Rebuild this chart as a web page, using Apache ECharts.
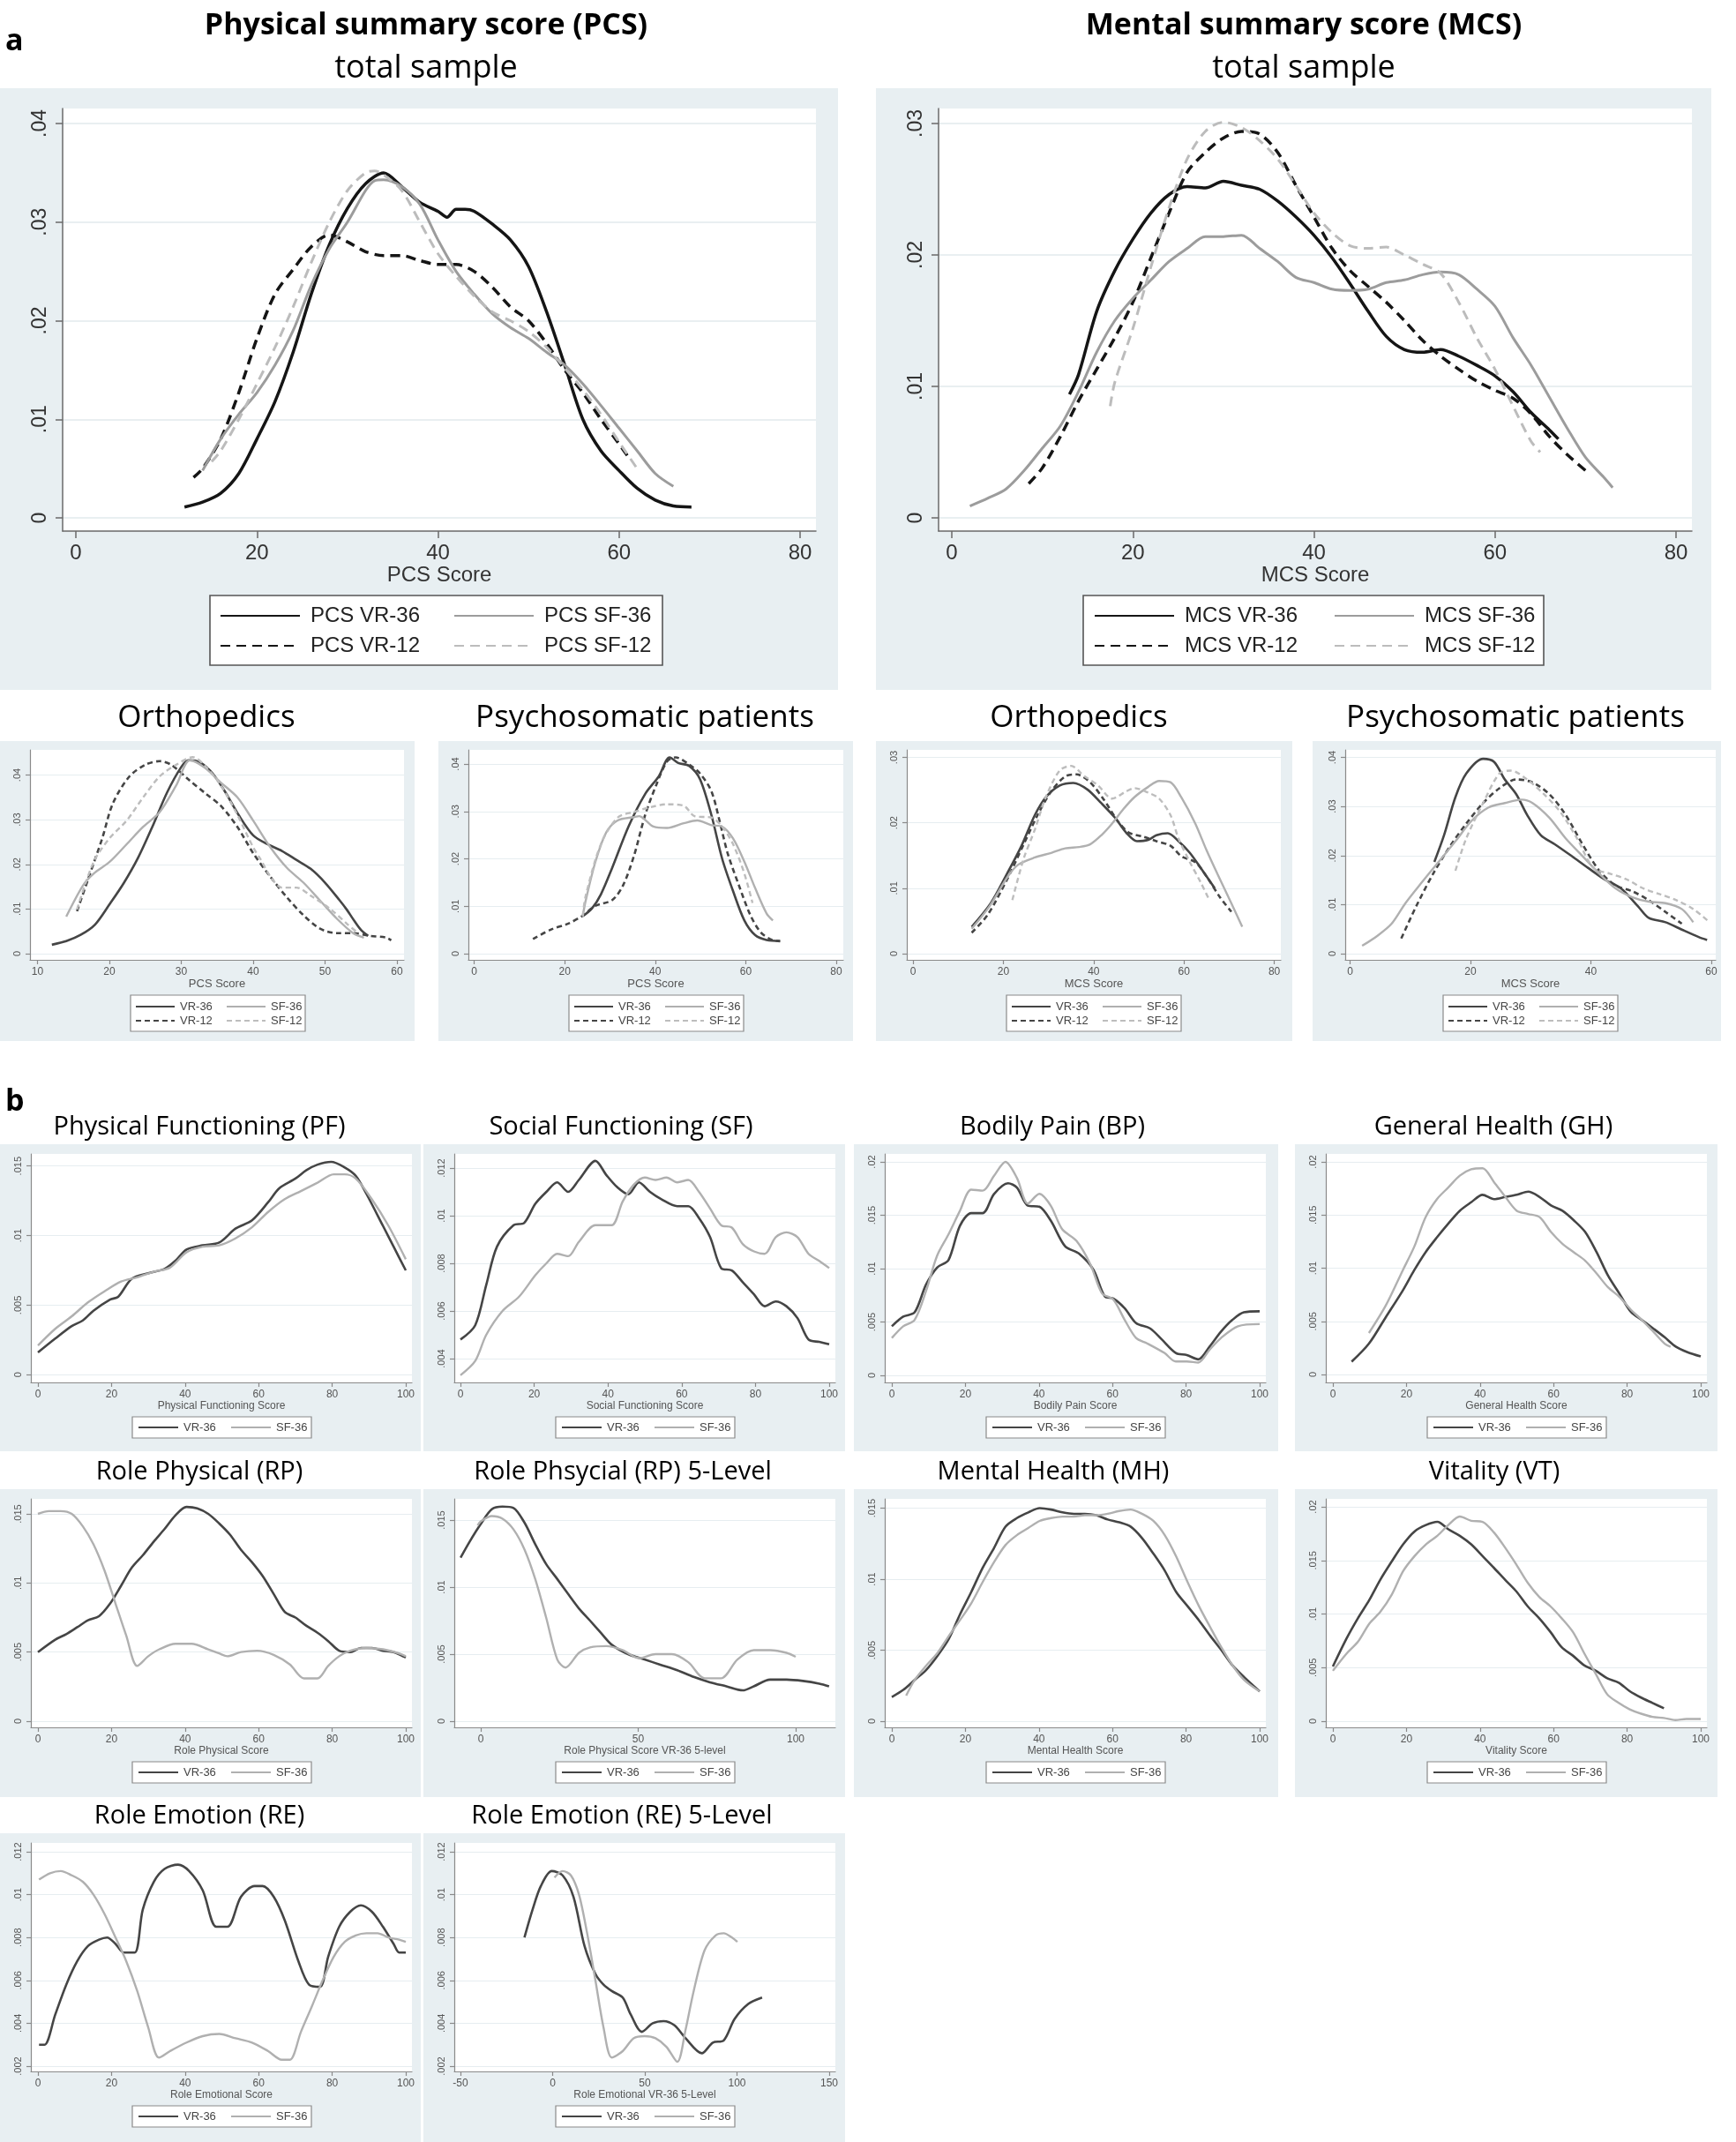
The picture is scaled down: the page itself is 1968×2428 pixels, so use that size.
<!DOCTYPE html>
<html><head><meta charset="utf-8">
<script src="https://cdn.jsdelivr.net/npm/echarts@6/dist/echarts.min.js"></script>
<style>html,body{margin:0;padding:0;background:#fff}#c{width:1968px;height:2428px}</style>
</head><body><div id="c"></div>
<script>
// ================= DATA (x, density) =================
// Total sample PCS
const pcsVR36 = [[12,.0011],[14,.0016],[16,.0025],[18,.0045],[20,.008],[22,.0118],[24,.0168],[26,.0227],[28,.0277],[30,.0314],[32,.0339],[34,.035],[36,.0336],[38,.032],[40,.0311],[41,.0305],[42,.0313],[43,.0313],[44,.0311],[46,.0298],[48,.0282],[50,.0255],[52,.0209],[54,.0155],[56,.01],[58,.0068],[60,.0048],[62,.003],[64,.0018],[66,.0012],[68,.0011]];
const pcsVR12 = [[13,.0041],[14,.005],[16,.008],[18,.0127],[20,.0182],[22,.0227],[24,.0252],[26,.0275],[28,.0287],[30,.028],[32,.027],[34,.0266],[36,.0266],[38,.0261],[40,.0257],[42,.0257],[44,.025],[46,.0234],[48,.0214],[50,.02],[52,.0177],[54,.015],[56,.0127],[58,.01],[60,.0075],[61,.0062]];
const pcsSF36 = [[14,.0048],[16,.008],[18,.0105],[20,.0127],[22,.0155],[24,.019],[26,.0236],[28,.0273],[30,.03],[32,.0332],[33,.0342],[34,.0343],[36,.0336],[38,.0318],[40,.0282],[42,.025],[44,.0227],[46,.0207],[48,.0193],[50,.0182],[52,.0168],[54,.0155],[56,.0136],[58,.0114],[60,.0091],[62,.0068],[64,.0045],[66,.0032]];
const pcsSF12 = [[15,.0057],[16,.0068],[18,.01],[20,.0136],[22,.0173],[24,.0214],[26,.0259],[28,.03],[30,.0332],[32,.035],[33,.0352],[34,.0348],[36,.0332],[38,.03],[40,.0268],[42,.0245],[44,.0225],[46,.0209],[48,.02],[50,.0189],[52,.0173],[54,.0152],[56,.013],[58,.0105],[60,.0077],[62,.005]];
// Total sample MCS
const mcsVR36 = [[13,.0094],[14,.0109],[16,.0157],[18,.0188],[20,.0212],[22,.0232],[24,.0246],[26,.0252],[28,.0251],[30,.0256],[32,.0253],[34,.025],[36,.0241],[38,.0229],[40,.0215],[42,.0198],[44,.0178],[46,.0157],[48,.0138],[50,.0128],[52,.0126],[54,.0128],[56,.0123],[58,.0116],[60,.0108],[62,.0096],[64,.008],[66,.0067],[67,.006]];
const mcsVR12 = [[8.5,.0026],[10,.0038],[12,.0062],[14,.0089],[16,.0113],[18,.0137],[20,.0164],[22,.0198],[24,.0232],[26,.0263],[28,.0278],[30,.0289],[32,.0294],[34,.0292],[36,.0278],[38,.0253],[40,.0229],[42,.0205],[44,.0188],[46,.0176],[48,.0164],[50,.015],[52,.0135],[54,.0123],[56,.0113],[58,.0104],[60,.0097],[62,.0091],[64,.0079],[66,.0062],[68,.0048],[70,.0036]];
const mcsSF36 = [[2,.0009],[4,.0015],[6,.0022],[8,.0036],[10,.0053],[12,.007],[14,.0096],[16,.0126],[18,.015],[20,.0167],[22,.0181],[24,.0195],[26,.0205],[28,.0214],[30,.0214],[32,.0215],[34,.0205],[36,.0195],[38,.0183],[40,.0179],[42,.0174],[44,.0173],[46,.0174],[48,.0179],[50,.0181],[52,.0185],[54,.0187],[56,.0185],[58,.0174],[60,.0161],[62,.0137],[64,.0116],[66,.0092],[68,.0068],[70,.0046],[72,.0031],[73,.0023]];
const mcsSF12 = [[17.5,.0085],[18,.0103],[20,.0144],[22,.0191],[24,.0236],[26,.0273],[28,.0294],[30,.0301],[32,.0297],[34,.0287],[36,.0273],[38,.0253],[40,.0232],[42,.0217],[44,.0207],[46,.0205],[48,.0206],[50,.02],[52,.0193],[54,.0186],[56,.0164],[58,.0137],[60,.0113],[62,.0085],[64,.0058],[65,.005]];
// Orthopedics PCS
const ortPcsVR36 = [[12,.002],[14,.0028],[16,.0042],[18,.0065],[20,.011],[22,.0158],[24,.0215],[26,.0285],[28,.036],[30,.0418],[31,.0433],[32,.0432],[34,.041],[36,.0365],[38,.031],[40,.0265],[42,.0245],[44,.023],[46,.021],[48,.019],[50,.0159],[52,.012],[53,.0099],[54,.0075],[55,.0053],[56,.004]];
const ortPcsVR12 = [[15.5,.0095],[17,.0165],[19,.0258],[20.5,.0337],[22.8,.0397],[25,.0423],[27,.0431],[28.6,.0423],[31,.039],[33.5,.0357],[35.5,.0331],[37.8,.0284],[40,.0225],[42.4,.0172],[44.7,.0126],[47,.0086],[49.3,.0056],[51.6,.0046],[53.9,.0046],[56.2,.004],[58.5,.0036],[59.2,.003]];
const ortPcsSF36 = [[14,.0083],[16.3,.0152],[17.8,.0179],[20,.0205],[22.4,.0245],[24.7,.0284],[27,.0317],[29.3,.0377],[31.2,.0433],[33.2,.0417],[35.5,.0383],[37.8,.035],[40,.0298],[42.4,.0238],[44.7,.0192],[47,.0159],[49.3,.0119],[51.6,.0079],[53.9,.0046],[55.4,.0036]];
const ortPcsSF12 = [[15.5,.0099],[17.8,.0205],[20,.0258],[22.4,.0298],[24.7,.035],[27,.0397],[29.3,.0423],[31.6,.044],[33.5,.0417],[35.5,.0377],[37.8,.0311],[40,.0238],[41,.0212],[42.5,.017],[44,.0148],[46,.0148],[48,.013],[50.8,.0099],[53.1,.0066],[54.6,.0046]];
// Psychosomatic PCS
const psyPcsVR36 = [[24,.0079],[26,.0095],[28,.0125],[30.5,.0181],[34.1,.0268],[37.8,.0337],[40.8,.0374],[43.2,.0414],[45.1,.0402],[47.5,.0396],[49.9,.0368],[52.4,.0293],[54.8,.02],[57.2,.0132],[59.7,.007],[62.1,.0039],[64.6,.0029],[67.6,.0027]];
const psyPcsVR12 = [[13,.0031],[17,.0051],[20.7,.0063],[23.8,.0079],[26.8,.0101],[30.5,.0113],[32.9,.0144],[35.3,.0206],[37.8,.0293],[40.2,.0355],[42.6,.0405],[44.5,.0414],[47.5,.0399],[49.9,.038],[52.4,.0343],[54.2,.0281],[56,.0212],[58.5,.0144],[61,.0082],[63.3,.0045],[65.8,.0029],[67.6,.0026]];
const psyPcsSF36 = [[24,.0079],[24.6,.011],[26.8,.0194],[29.2,.0256],[31.7,.0281],[35.3,.0288],[36.5,.029],[37.8,.0282],[39.6,.0268],[42.6,.0265],[46.3,.0275],[49.3,.0281],[52.4,.0271],[54.8,.0268],[57.2,.0243],[59.7,.0194],[62.1,.0138],[64.6,.0085],[66,.007]];
const psyPcsSF12 = [[24,.0079],[24.6,.012],[28,.0231],[31.7,.0287],[35.3,.0299],[39,.0309],[42.6,.0315],[46.3,.0312],[48.7,.029],[52.4,.0287],[54.8,.0268],[57.2,.0231],[59.7,.0169],[61.5,.0107]];
// Orthopedics MCS
const ortMcsVR36 = [[13,.0041],[17.2,.0077],[20.8,.0122],[23.9,.0163],[27,.0212],[29.4,.0239],[32.5,.0257],[35.5,.0261],[38.6,.0251],[41.7,.023],[44.7,.0208],[47.2,.0185],[49.6,.0172],[52.1,.0174],[53.9,.0181],[56.4,.0184],[58.8,.0172],[61.3,.0154],[63.7,.0131],[66.8,.01]];
const ortMcsVR12 = [[13,.0032],[16.5,.0059],[20.8,.0113],[24.5,.0167],[27.6,.0212],[30.6,.0248],[33.7,.0271],[36.2,.0274],[39.2,.0262],[42.3,.0235],[45.3,.0203],[47.8,.0185],[50.9,.0179],[53.9,.0172],[57,.0165],[59.4,.0149],[62.5,.014],[65,.0118],[68,.0086],[70.5,.0064]];
const ortMcsSF36 = [[13,.0038],[17,.0073],[21,.0118],[23.3,.0136],[27,.0147],[30.6,.0154],[33.7,.0161],[36.8,.0163],[39.2,.0167],[41.7,.0181],[44.1,.0199],[46.6,.0221],[49,.0239],[52.1,.0255],[54.5,.0264],[57,.0262],[59.4,.0239],[62.5,.0199],[65,.0158],[67.4,.0122],[70.5,.0077],[72.9,.0041]];
const ortMcsSF12 = [[22,.0082],[24.5,.0145],[27,.019],[29.4,.0239],[32.5,.028],[35,.0287],[38,.0271],[41,.0257],[44.1,.0237],[47.2,.0248],[49,.0253],[52.1,.0246],[54.5,.0237],[57,.0212],[58.8,.0176],[61.3,.014],[63.7,.0109],[65.6,.0082]];
// Psychosomatic MCS
const psyMcsVR36 = [[14,.0187],[15.6,.0241],[17.5,.0319],[19.3,.0367],[22.1,.0397],[23.9,.0391],[25.7,.0355],[27.6,.0325],[29.4,.0283],[31.7,.0241],[34,.0223],[36.8,.0199],[39.5,.0175],[42.3,.0151],[45,.0133],[47.8,.0097],[49.6,.0073],[52.4,.0064],[55.1,.0049],[57.9,.0034],[59.3,.0028]];
const psyMcsVR12 = [[8.5,.0031],[11,.0097],[13.8,.0163],[16.5,.0217],[19.3,.0265],[22.1,.0307],[24.8,.0337],[27.6,.0355],[30.3,.0349],[33.1,.0325],[35.8,.0283],[38.6,.0223],[41.4,.0169],[44.1,.0139],[46.9,.0127],[49.6,.0109],[52.4,.0085],[55.1,.0061]];
const psyMcsSF36 = [[2,.0016],[4.6,.0037],[6.9,.0061],[9.2,.0103],[11.9,.0145],[14.7,.0187],[17.5,.0229],[20.2,.0271],[23,.0298],[25.7,.0307],[28.5,.0314],[30.3,.0307],[33.1,.0277],[35.8,.0235],[38.6,.0199],[41.4,.0163],[44.1,.0133],[46.9,.0115],[49.6,.0106],[52.4,.0103],[55.1,.0091],[57,.0064]];
const psyMcsSF12 = [[17.5,.0169],[19.3,.0235],[22.1,.0307],[24.8,.0367],[26.7,.0373],[29.4,.0355],[32.2,.0325],[34.9,.0289],[37.7,.0235],[40.4,.0175],[43.2,.0163],[46,.0151],[48.7,.0133],[51.5,.0121],[54.2,.0109],[57,.0091],[59.7,.0064]];
// Subscales (VR-36 vs SF-36)
const pfVR36 = [[0,.0016],[4.7,.0026],[9.2,.0035],[12.2,.0039],[15.1,.0046],[19.6,.0054],[21.8,.0056],[25.5,.0069],[30,.0073],[34.4,.0076],[37.4,.0082],[40.4,.009],[44.8,.0093],[49.3,.0095],[53.7,.0105],[58.2,.0111],[62.6,.0124],[65.6,.0134],[70,.0141],[73,.0147],[76,.0151],[79.7,.0153],[83.4,.0149],[86.4,.0143],[89.3,.013],[93.8,.0107],[96.7,.0092],[100,.0075]];
const pfSF36 = [[0,.0021],[4.7,.0033],[9.2,.0042],[13.6,.0052],[18.1,.006],[22.6,.0067],[27,.007],[31.5,.0074],[35.9,.0077],[40.4,.0088],[44.8,.0092],[49.3,.0093],[53.7,.0098],[58.2,.0106],[62.6,.0117],[67,.0126],[71.5,.0132],[76,.0138],[80.4,.0144],[83.4,.0144],[86.4,.0141],[90.8,.0126],[95.3,.0107],[100,.0083]];
const sfVR36 = [[0,.0048],[4,.0054],[7,.0071],[9.9,.0087],[14.4,.0096],[17.3,.0097],[20.3,.0105],[23.3,.011],[26.2,.0114],[29.2,.011],[32.1,.0115],[36.6,.0123],[39.6,.0117],[42.5,.0112],[45.5,.0109],[48.4,.0114],[51.4,.011],[54.4,.0107],[58.8,.0104],[61.8,.0104],[64.7,.0099],[67.7,.0091],[70.7,.0078],[73.6,.0077],[76.6,.0072],[79.6,.0067],[82.5,.0062],[85.5,.0064],[88.4,.0062],[91.4,.0057],[94.4,.0048],[97.3,.0047],[100,.0046]];
const sfSF36 = [[0,.0033],[4,.0039],[7,.005],[11.4,.006],[15.9,.0066],[20.3,.0075],[23.3,.008],[26.2,.0084],[29.2,.0083],[32.1,.0089],[36.6,.0096],[41,.0096],[44,.0106],[47,.0113],[50,.0116],[52.9,.0115],[55.9,.0116],[58.8,.0114],[61.8,.0115],[64.7,.011],[67.7,.0103],[70.7,.0096],[73.6,.0095],[76.6,.0088],[79.6,.0085],[82.5,.0084],[85.5,.0091],[88.4,.0093],[91.4,.0091],[94.4,.0084],[97.3,.0081],[100,.0078]];
const bpVR36 = [[0,.0046],[3.1,.0055],[6.2,.0059],[9.3,.0085],[12.3,.0101],[15.4,.0108],[18.5,.014],[21.6,.0152],[24.7,.0152],[27.8,.017],[31.6,.018],[34,.0176],[37,.0159],[40.1,.0158],[43.2,.0145],[47.1,.0121],[50.9,.0114],[54.8,.0099],[57.9,.0074],[60.2,.0072],[63.3,.0063],[66.4,.0049],[70.2,.0044],[73.3,.0034],[77.2,.0021],[80.2,.0019],[83.3,.0015],[86.4,.0027],[89.5,.0041],[92.6,.0052],[95.7,.0059],[100,.006]];
const bpSF36 = [[0,.0035],[3.1,.0046],[6.2,.0052],[9.3,.0079],[12.3,.0112],[15.4,.0132],[18.5,.0154],[21.6,.0174],[24.7,.0173],[27.8,.0187],[30.9,.02],[34,.0185],[37,.0161],[40.1,.017],[43.2,.0159],[46.3,.0137],[50.2,.0126],[54,.0104],[57.1,.0077],[60.2,.0071],[63.3,.0052],[66.4,.0035],[69.4,.003],[74.1,.0021],[77.2,.0013],[80.2,.0013],[83.3,.0012],[86.4,.0024],[89.5,.0035],[94.1,.0046],[100,.0048]];
const ghVR36 = [[5.1,.0012],[9.8,.0029],[14.4,.0054],[19,.0079],[22.1,.0098],[25.2,.0115],[28.3,.0129],[31.4,.0142],[34.5,.0154],[37.6,.0162],[40.7,.0169],[43.8,.0165],[46.9,.0167],[50,.0169],[53.1,.0172],[56.2,.0167],[59.3,.0159],[62.4,.0154],[65.5,.0145],[68.6,.0134],[71.7,.0115],[74.8,.0093],[77.9,.0076],[81,.0059],[84.1,.0051],[87.2,.0043],[90.2,.0035],[93.3,.0026],[96.4,.0021],[100,.0017]];
const ghSF36 = [[9.8,.0039],[14.4,.0065],[19,.0098],[22.1,.012],[25.2,.0148],[28.3,.0165],[31.4,.0176],[34.5,.0187],[37.6,.0193],[40.7,.0194],[43.8,.0181],[46.9,.0167],[50,.0154],[53.1,.0151],[56.2,.0148],[59.3,.0134],[62.4,.0123],[65.5,.0115],[68.6,.0107],[71.7,.0095],[74.8,.0082],[77.9,.0073],[81,.0061],[84.1,.0051],[87.2,.004],[90.2,.0029],[91.8,.0026]];
const rpVR36 = [[0,.005],[4.7,.0059],[7.7,.0063],[10.7,.0068],[13.6,.0073],[16.6,.0076],[19.6,.0085],[22.6,.0098],[25.5,.0111],[28.5,.012],[31.5,.013],[34.4,.0139],[37.4,.0149],[40.4,.0155],[43.3,.0154],[46.3,.015],[49.3,.0143],[52.2,.0135],[55.2,.0124],[58.2,.0115],[61.1,.0105],[64.1,.0092],[67.1,.0079],[70,.0075],[73,.0069],[76,.0064],[78.9,.0058],[81.9,.0051],[84.9,.005],[87.8,.0053],[90.8,.0053],[93.8,.0051],[96.7,.005],[100,.0046]];
const rpSF36 = [[0,.015],[3,.0152],[6.2,.0152],[9.2,.015],[12.2,.0141],[15.1,.0128],[18.1,.0109],[21.1,.0085],[24,.0062],[27,.004],[30,.0047],[33,.0052],[37.4,.0056],[41.8,.0056],[46.3,.0052],[49.3,.0049],[51.5,.0047],[55.2,.005],[59.6,.0051],[64.1,.0048],[68.5,.0041],[72.3,.0031],[76,.0031],[78.9,.004],[81.9,.0047],[84.9,.0051],[89.3,.0053],[93.8,.0052],[98.2,.0049],[100,.0047]];
const rp5VR36 = [[-6.4,.0122],[-3.5,.0134],[0,.0147],[3.5,.0158],[6.9,.016],[10.4,.0159],[13.9,.0148],[17.3,.0132],[20.8,.0117],[24.3,.0106],[27.7,.0095],[31.2,.0084],[34.7,.0075],[38.1,.0066],[41.6,.0057],[46.8,.005],[52,.0046],[57.2,.0042],[62.4,.0038],[67.6,.0033],[72.8,.0029],[78,.0026],[83.2,.0023],[86.7,.0026],[91.9,.0031],[97.1,.0031],[102.3,.003],[107.5,.0028],[110.6,.0026]];
const rp5SF36 = [[-1,.0146],[0,.0149],[3.5,.0153],[6.9,.0151],[10.4,.0143],[13.9,.0128],[17.3,.0106],[20.8,.0077],[24.3,.0046],[26.9,.004],[31.2,.0051],[34.7,.0055],[39.9,.0056],[45,.0053],[50.3,.0047],[55.5,.005],[60.7,.005],[65.9,.0044],[71.1,.0032],[76.3,.0032],[81.5,.0046],[86.7,.0053],[91.9,.0053],[97.1,.0051],[100,.0048]];
const mhVR36 = [[0,.0017],[3.1,.0022],[6.2,.0029],[9.3,.0036],[12.4,.0046],[15.5,.0058],[18.5,.0075],[21.6,.0091],[24.7,.0108],[27.8,.0122],[30.9,.0137],[34,.0143],[37.1,.0147],[40.2,.015],[43.3,.0149],[46.4,.0147],[49.5,.0146],[52.5,.0146],[55.6,.0145],[58.7,.0142],[61.8,.014],[64.9,.0137],[68,.0129],[71.1,.0118],[74.2,.0106],[77.3,.0091],[80.4,.0081],[83.5,.0071],[86.6,.006],[89.6,.005],[92.7,.0039],[95.8,.0031],[100,.0021]];
const mhSF36 = [[3.9,.0018],[6.2,.0029],[9.3,.0039],[12.4,.0048],[15.5,.006],[18.5,.0071],[21.6,.0083],[24.7,.0098],[27.8,.0112],[30.9,.0124],[34,.0131],[37.1,.0136],[40.2,.0141],[43.3,.0143],[46.4,.0144],[49.5,.0144],[52.5,.0145],[55.6,.0145],[58.7,.0146],[61.8,.0148],[64.9,.0149],[68,.0146],[71.1,.0141],[74.2,.0131],[77.3,.0116],[80.4,.0098],[83.5,.0081],[86.6,.0066],[89.6,.0052],[92.7,.0039],[95.8,.0029],[100,.0021]];
const vtVR36 = [[0,.0051],[3.7,.0077],[6.8,.0096],[9.9,.0113],[12.9,.0132],[16,.0149],[19.1,.0165],[22.2,.0177],[25.3,.0183],[28.4,.0186],[31.4,.0179],[34.5,.0173],[37.6,.0165],[40.7,.0154],[43.8,.0143],[46.8,.0132],[49.9,.0121],[53,.0107],[56.1,.0096],[59.2,.0083],[62.2,.0069],[65.3,.0061],[68.4,.0052],[71.5,.0047],[74.6,.004],[77.7,.0036],[80.7,.0028],[83.8,.0022],[86.9,.0017],[90,.0012]];
const vtSF36 = [[0,.0047],[3.7,.0063],[6.8,.0074],[9.9,.0091],[12.9,.0102],[16,.0118],[19.1,.014],[22.2,.0154],[25.3,.0165],[28.4,.0173],[31.4,.0183],[34.5,.0191],[37.6,.0187],[40.7,.0186],[43.8,.0176],[46.8,.0162],[49.9,.0146],[53,.0129],[56.1,.0116],[59.2,.0107],[62.2,.0096],[65.3,.0083],[68.4,.0063],[71.5,.0044],[74.6,.0025],[77.7,.0017],[80.7,.0011],[83.8,.0007],[86.9,.0004],[90,.0003],[93.1,.0001],[96.1,.0002],[100,.0002]];
const reVR36 = [[0.3,.003],[1.8,.003],[4.7,.0044],[7.7,.0058],[10.7,.0069],[13.6,.0076],[16.6,.0079],[18.8,.008],[21.1,.0077],[23.3,.0073],[26.3,.0073],[28.5,.0093],[31.5,.0106],[34.4,.0112],[38.1,.0114],[41.1,.0111],[44.8,.0102],[48.5,.0085],[51.5,.0085],[55.2,.0099],[58.9,.0104],[61.1,.0104],[64.1,.0099],[67.1,.0088],[70.8,.0069],[73.7,.0058],[76.7,.0057],[78.9,.0071],[81.9,.0085],[84.9,.0092],[87.8,.0095],[90.8,.0092],[93.8,.0085],[96.7,.0077],[98.2,.0073],[100,.0073]];
const reSF36 = [[0.3,.0107],[3.3,.011],[6.2,.0111],[9.2,.0109],[12.2,.0106],[15.1,.01],[18.1,.0091],[21.1,.008],[24,.0069],[27,.0055],[30,.0038],[32.9,.0024],[35.9,.0027],[40.4,.0031],[44.8,.0034],[49.3,.0035],[53.7,.0033],[58.2,.0031],[62.6,.0027],[66.3,.0023],[68.5,.0023],[71.5,.0036],[74.5,.0048],[77.4,.006],[80.4,.0071],[83.4,.0078],[86.4,.0081],[89.3,.0082],[92.3,.0082],[95.3,.008],[98.2,.0079],[100,.0078]];
const re5VR36 = [[-15.3,.008],[-10.9,.0093],[-6.4,.0104],[-0.5,.0111],[5.4,.0109],[11.3,.0099],[17.3,.0076],[23.2,.0063],[27.6,.0058],[32.1,.0055],[38,.0052],[42.4,.0044],[48.4,.0036],[54.3,.004],[60.2,.0041],[66.1,.0039],[72.1,.0033],[80.9,.0026],[86.9,.0031],[92.8,.0032],[98.7,.0042],[106.1,.0049],[113.6,.0052]];
const re5SF36 = [[1,.0108],[5.4,.0111],[9.9,.0109],[14.3,.01],[18.7,.0082],[23.2,.006],[27.6,.0038],[32.1,.0024],[38,.0027],[43.9,.0033],[49.9,.0034],[55.8,.0033],[61.7,.0029],[67.6,.0022],[72.1,.0037],[76.5,.0055],[82.4,.0074],[88.4,.0081],[92.8,.0082],[97.3,.008],[100.2,.0078]];

// Tick values
const ticks0to80 = [0,20,40,60,80];
const ticks10to60 = [10,20,30,40,50,60];
const ticks0to60 = [0,20,40,60];
const ticks0to100 = [0,20,40,60,80,100];
const ticksRP5 = [0,50,100];
const ticksRE5 = [-50,0,50,100,150];
const yT04 = [0,.01,.02,.03,.04];
const yT03 = [0,.01,.02,.03];
const yT015 = [0,.005,.01,.015];
const yT02 = [0,.005,.01,.015,.02];
const yTSF = [.004,.006,.008,.01,.012];
const yTRE = [.002,.004,.006,.008,.01,.012];

// ================= LAYOUT (pixels) & STYLES =================
const FONT_AX = "'Liberation Sans', Arial, sans-serif";
const FONT_T = "'Open Sans', 'Noto Sans', sans-serif";
const BG = '#e8eff2';
const STY = {
  big: {vr36:{c:'#151515',w:3.5,t:'solid'}, vr12:{c:'#151515',w:3.5,t:[11,7]}, sf36:{c:'#9c9c9c',w:3,t:'solid'}, sf12:{c:'#bcbcbc',w:3,t:[11,7]}},
  small:{vr36:{c:'#454545',w:2.6,t:'solid'}, vr12:{c:'#454545',w:2.6,t:[6,4]}, sf36:{c:'#b0b0b0',w:2.4,t:'solid'}, sf12:{c:'#bdbdbd',w:2.4,t:[6,4]}}
};
STY.b = STY.small;
const AX = {
  big:  {axC:'#6a6a6a', axW:1.5, tick:8, yFs:23, yM:14, xFs:24, xM:13, nFs:24, nGap:35, lab:'#333', grid:'#e2eaed', gW:1.6},
  small:{axC:'#8a8a8a', axW:1.2, tick:5, yFs:11, yM:9, xFs:12, xM:8, nFs:13, nGap:17, lab:'#555', grid:'#e6edf0', gW:1.2},
  b:    {axC:'#8a8a8a', axW:1.2, tick:5, yFs:11, yM:9, xFs:12, xM:8, nFs:12, nGap:20, lab:'#555', grid:'#e6edf0', gW:1.2}
};

// each panel: bg [x,y,w,h]; grid [x1,y1,x2,y2]; xCal/yCal [v0,px0,v1,px1]
const PANELS = [
 {kind:'big', bg:[0,100,950,682], grid:[71,123,925,602], xCal:[0,86,80,907], yCal:[0,587,.04,140], xT:ticks0to80, yT:yT04, xName:'PCS Score',
  s:[['PCS VR-36',pcsVR36,'vr36'],['PCS VR-12',pcsVR12,'vr12'],['PCS SF-36',pcsSF36,'sf36'],['PCS SF-12',pcsSF12,'sf12']],
  title:['Physical summary score (PCS)',483], leg:{box:[238,675,513,79], cols:[249,514]}},
 {kind:'big', bg:[993,100,947,682], grid:[1064,123,1918,602], xCal:[0,1079,80,1900], yCal:[0,587,.03,140], xT:ticks0to80, yT:yT03, xName:'MCS Score',
  s:[['MCS VR-36',mcsVR36,'vr36'],['MCS VR-12',mcsVR12,'vr12'],['MCS SF-36',mcsSF36,'sf36'],['MCS SF-12',mcsSF12,'sf12']],
  title:['Mental summary score (MCS)',1478], leg:{box:[1228,675,522,79], cols:[1240,1512]}},
 {kind:'small', bg:[0,840,470,340], grid:[34,850,458,1088], xCal:[10,42.5,60,450], yCal:[0,1081,.04,878.5], xT:ticks10to60, yT:yT04, xName:'PCS Score',
  s:[['VR-36',ortPcsVR36,'vr36'],['VR-12',ortPcsVR12,'vr12'],['SF-36',ortPcsSF36,'sf36'],['SF-12',ortPcsSF12,'sf12']], title:['Orthopedics',234]},
 {kind:'small', bg:[497,840,470,340], grid:[531,850,956,1088], xCal:[0,537.5,80,948], yCal:[0,1081,.04,866], xT:ticks0to80, yT:yT04, xName:'PCS Score',
  s:[['VR-36',psyPcsVR36,'vr36'],['VR-12',psyPcsVR12,'vr12'],['SF-36',psyPcsSF36,'sf36'],['SF-12',psyPcsSF12,'sf12']], title:['Psychosomatic patients',731]},
 {kind:'small', bg:[993,840,472,340], grid:[1028,850,1452,1088], xCal:[0,1035,80,1444.6], yCal:[0,1081,.03,858.5], xT:ticks0to80, yT:yT03, xName:'MCS Score',
  s:[['VR-36',ortMcsVR36,'vr36'],['VR-12',ortMcsVR12,'vr12'],['SF-36',ortMcsSF36,'sf36'],['SF-12',ortMcsSF12,'sf12']], title:['Orthopedics',1223]},
 {kind:'small', bg:[1488,840,463,340], grid:[1525,850,1945,1088], xCal:[0,1530.5,60,1940], yCal:[0,1081,.04,858.5], xT:ticks0to60, yT:yT04, xName:'MCS Score',
  s:[['VR-36',psyMcsVR36,'vr36'],['VR-12',psyMcsVR12,'vr12'],['SF-36',psyMcsSF36,'sf36'],['SF-12',psyMcsSF12,'sf12']], title:['Psychosomatic patients',1718]},
 // b rows
 {kind:'b', bg:[0,1297,477,348], xCal:[0,43,100,460], yCal:[0,1558.3,.015,1321.7], xT:ticks0to100, yT:yT015, xName:'Physical Functioning Score', s:[['VR-36',pfVR36,'vr36'],['SF-36',pfSF36,'sf36']], title:['Physical Functioning (PF)',226]},
 {kind:'b', bg:[480,1297,478,348], xCal:[0,522,100,940], yCal:[.004,1540,.012,1324], xT:ticks0to100, yT:yTSF, xName:'Social Functioning Score', s:[['VR-36',sfVR36,'vr36'],['SF-36',sfSF36,'sf36']], title:['Social Functioning (SF)',704]},
 {kind:'b', bg:[968,1297,481,348], xCal:[0,1011,100,1428], yCal:[0,1559,.02,1317], xT:ticks0to100, yT:yT02, xName:'Bodily Pain Score', s:[['VR-36',bpVR36,'vr36'],['SF-36',bpSF36,'sf36']], title:['Bodily Pain (BP)',1193]},
 {kind:'b', bg:[1468,1297,479,348], xCal:[0,1511,100,1928], yCal:[0,1558,.02,1317], xT:ticks0to100, yT:yT02, xName:'General Health Score', s:[['VR-36',ghVR36,'vr36'],['SF-36',ghSF36,'sf36']], title:['General Health (GH)',1693]},
 {kind:'b', bg:[0,1688,477,349], xCal:[0,43,100,460], yCal:[0,1951,.015,1716], xT:ticks0to100, yT:yT015, xName:'Role Physical Score', s:[['VR-36',rpVR36,'vr36'],['SF-36',rpSF36,'sf36']], title:['Role Physical (RP)',226]},
 {kind:'b', bg:[480,1688,478,349], xCal:[0,545,100,902], yCal:[0,1951,.015,1723], xT:ticksRP5, yT:yT015, xName:'Role Physical Score VR-36 5-level', s:[['VR-36',rp5VR36,'vr36'],['SF-36',rp5SF36,'sf36']], title:['Role Phsycial (RP) 5-Level',706]},
 {kind:'b', bg:[968,1688,481,349], xCal:[0,1011,100,1428], yCal:[0,1951,.015,1709.5], xT:ticks0to100, yT:yT015, xName:'Mental Health Score', s:[['VR-36',mhVR36,'vr36'],['SF-36',mhSF36,'sf36']], title:['Mental Health (MH)',1194]},
 {kind:'b', bg:[1468,1688,479,349], xCal:[0,1511,100,1928], yCal:[0,1951,.02,1708], xT:ticks0to100, yT:yT02, xName:'Vitality Score', s:[['VR-36',vtVR36,'vr36'],['SF-36',vtSF36,'sf36']], title:['Vitality (VT)',1694]},
 {kind:'b', bg:[0,2078,477,350], xCal:[0,43,100,460], yCal:[.002,2342,.012,2099], xT:ticks0to100, yT:yTRE, xName:'Role Emotional Score', s:[['VR-36',reVR36,'vr36'],['SF-36',reSF36,'sf36']], title:['Role Emotion (RE)',226]},
 {kind:'b', bg:[480,2078,478,350], xCal:[-50,522,150,940], yCal:[.002,2342,.012,2099], xT:ticksRE5, yT:yTRE, xName:'Role Emotional VR-36 5-Level', s:[['VR-36',re5VR36,'vr36'],['SF-36',re5SF36,'sf36']], title:['Role Emotion (RE) 5-Level',705]}
];

// ================= BUILD =================
function rng(cal, a, b) {
  const [v0,p0,v1,p1] = cal, k = (p1-p0)/(v1-v0);
  const u = v0 + (a-p0)/k, w = v0 + (b-p0)/k;
  return [Math.min(u,w), Math.max(u,w)];
}
function fmtY(v) {
  if (Math.abs(v) < 1e-12) return '0';
  return String(+v.toFixed(4)).replace(/^0\./, '.').replace(/^-0\./, '-.');
}
const grids=[], xAxes=[], yAxes=[], series=[], legends=[], titles=[], gfx=[];
PANELS.forEach((p, i) => {
  const [bx,by,bw,bh] = p.bg;
  const g = p.grid || [bx+35, by+11, bx+467, by+270];
  const ax = AX[p.kind], st = STY[p.kind];
  gfx.push({type:'rect', shape:{x:bx,y:by,width:bw,height:bh}, style:{fill:BG}, z:-10, silent:true});
  grids.push({left:g[0], top:g[1], width:g[2]-g[0], height:g[3]-g[1], show:true, backgroundColor:'#ffffff', borderWidth:0, containLabel:false, outerBoundsMode:'none'});
  const xr = rng(p.xCal, g[0], g[2]), yr = rng(p.yCal, g[1], g[3]);
  xAxes.push({type:'value', gridIndex:i, min:xr[0], max:xr[1],
    axisLine:{show:true,onZero:false,lineStyle:{color:ax.axC,width:ax.axW}},
    axisTick:{show:true,length:ax.tick,customValues:p.xT,lineStyle:{color:ax.axC,width:ax.axW}},
    axisLabel:{show:true,customValues:p.xT,margin:ax.xM,fontSize:ax.xFs,color:ax.lab,fontFamily:FONT_AX,formatter:v=>String(v)},
    splitLine:{show:false},
    name:p.xName, nameLocation:'middle', nameGap:ax.nGap, nameTextStyle:{fontSize:ax.nFs,color:ax.lab,fontFamily:FONT_AX}});
  yAxes.push({type:'value', gridIndex:i, min:yr[0], max:yr[1],
    axisLine:{show:true,onZero:false,lineStyle:{color:ax.axC,width:ax.axW}},
    axisTick:{show:true,length:ax.tick,customValues:p.yT,lineStyle:{color:ax.axC,width:ax.axW}},
    axisLabel:{show:true,customValues:p.yT,rotate:90,margin:ax.yM,fontSize:ax.yFs,color:ax.lab,fontFamily:FONT_AX,formatter:fmtY},
    splitLine:{show:true,lineStyle:{color:ax.grid,width:ax.gW}}});
  p.s.forEach(([name,data,key]) => {
    const ls = st[key];
    series.push({type:'line', name, xAxisIndex:i, yAxisIndex:i, data, symbol:'none', showSymbol:false,
      smooth:0.3, silent:true, animation:false, lineStyle:{color:ls.c,width:ls.w,type:ls.t}, itemStyle:{color:ls.c}, z:2});
  });
  // titles
  if (p.kind === 'big') {
    titles.push({text:p.title[0], left:p.title[1], top:29, textAlign:'center', textVerticalAlign:'middle', padding:0,
      textStyle:{fontFamily:FONT_T, fontSize:34, fontWeight:'bold', color:'#000'}});
    titles.push({text:'total sample', left:p.title[1], top:78, textAlign:'center', textVerticalAlign:'middle', padding:0,
      textStyle:{fontFamily:FONT_T, fontSize:36, fontWeight:'normal', color:'#000'}});
  } else {
    const ty = p.kind === 'small' ? 814 : by - 19;
    titles.push({text:p.title[0], left:p.title[1], top:ty, textAlign:'center', textVerticalAlign:'middle', padding:0,
      textStyle:{fontFamily:FONT_T, fontSize:p.kind==='small'?35:29, fontWeight:'normal', color:'#000'}});
  }
  // legends
  const names = p.s.map(s => s[0]);
  const colA = names.filter((n,j) => p.s[j][2].startsWith('vr'));
  const colB = names.filter((n,j) => p.s[j][2].startsWith('sf'));
  let box, cols, top, iw, ih, gap, fs, pad;
  if (p.kind === 'big') { box=p.leg.box; cols=p.leg.cols; top=686; iw=90; ih=24; gap=10; fs=24; pad=7; }
  else if (p.kind === 'small') { box=[bx+148,1128,198,41]; cols=[bx+153,bx+256]; top=1134.5; iw=44; ih=13; gap=3; fs=13; pad=1; }
  else { box=[bx+150,by+309,203,24]; cols=[bx+156,bx+261]; top=by+314.5; iw=45; ih=13; gap=3; fs=13; pad=1; }
  gfx.push({type:'rect', shape:{x:box[0],y:box[1],width:box[2],height:box[3]}, style:{fill:'#ffffff', stroke:p.kind==='big'?'#555':'#8a8a8a', lineWidth:p.kind==='big'?1.6:1.2}, z:1, silent:true});
  [colA, colB].forEach((names2, c) => {
    legends.push({orient:'vertical', left:cols[c], top, itemWidth:iw, itemHeight:ih, itemGap:gap, padding:0,
      selectedMode:false, data:names2, itemStyle:{opacity:0}, z:5,
      textStyle:{fontSize:fs, color:p.kind==='big'?'#222':'#444', fontFamily:FONT_AX, lineHeight:ih, padding:[0,0,0,pad]}});
  });
});
titles.push({text:'a', left:6, top:47, textAlign:'left', textVerticalAlign:'middle', padding:0, textStyle:{fontFamily:FONT_T,fontSize:34,fontWeight:'bold',color:'#000'}});
titles.push({text:'b', left:6, top:1249, textAlign:'left', textVerticalAlign:'middle', padding:0, textStyle:{fontFamily:FONT_T,fontSize:34,fontWeight:'bold',color:'#000'}});

const chart = echarts.init(document.getElementById('c'), null, {renderer:'canvas', width:1968, height:2428});
chart.setOption({
  backgroundColor:'#ffffff', animation:false,
  title:titles, grid:grids, xAxis:xAxes, yAxis:yAxes, series, legend:legends,
  graphic:{elements:gfx}
});
</script></body></html>
